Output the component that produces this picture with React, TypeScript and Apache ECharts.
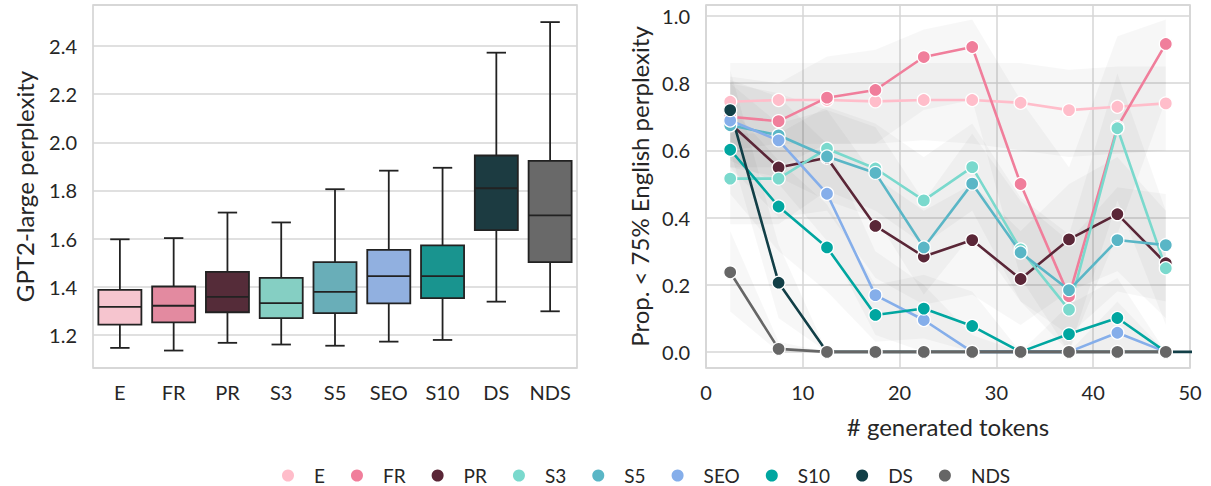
import React, { useEffect, useRef } from "react";
import * as echarts from "echarts";

const categories = ["E", "FR", "PR", "S3", "S5", "SEO", "S10", "DS", "NDS"];
const boxFill = ["#f6c5cf", "#e38aa0", "#552c39", "#85cfc3", "#69aeb8", "#91b0e0", "#19948f", "#1c3b41", "#696969"];
const lineColors = ["#ffbdca", "#f07e9b", "#5a2637", "#7ad9cd", "#5ab6c6", "#85aeea", "#00a6a0", "#123f47", "#666666"];

const boxMin = [1.146, 1.135, 1.167, 1.16, 1.155, 1.172, 1.179, 1.338, 1.298];
const boxQ1 = [1.243, 1.252, 1.294, 1.27, 1.29, 1.331, 1.353, 1.635, 1.502];
const boxMed = [1.316, 1.321, 1.358, 1.332, 1.379, 1.444, 1.444, 1.809, 1.696];
const boxQ3 = [1.387, 1.401, 1.462, 1.437, 1.502, 1.553, 1.572, 1.945, 1.923];
const boxMax = [1.597, 1.602, 1.708, 1.667, 1.805, 1.882, 1.894, 2.372, 2.499];

const tokens = [2.5, 7.5, 12.5, 17.5, 22.5, 27.5, 32.5, 37.5, 42.5, 47.5];
const tokensDS = [2.5, 7.5, 12.5, 17.5, 22.5, 27.5, 32.5, 37.5, 42.5, 47.5, 52.5];

const propE = [0.745, 0.75, 0.75, 0.746, 0.75, 0.75, 0.742, 0.72, 0.73, 0.74];
const propFR = [0.7, 0.687, 0.757, 0.78, 0.878, 0.908, 0.5, 0.166, 0.67, 0.917];
const propPR = [0.68, 0.549, 0.578, 0.375, 0.284, 0.333, 0.217, 0.335, 0.41, 0.264];
const propS3 = [0.516, 0.516, 0.605, 0.546, 0.451, 0.55, 0.305, 0.126, 0.666, 0.249];
const propS5 = [0.675, 0.645, 0.582, 0.533, 0.311, 0.501, 0.296, 0.184, 0.333, 0.318];
const propSEO = [0.689, 0.63, 0.471, 0.169, 0.095, 0, 0, 0, 0.057, 0];
const propS10 = [0.602, 0.433, 0.311, 0.11, 0.129, 0.077, 0, 0.053, 0.101, 0];
const propDS = [0.72, 0.206, 0, 0, 0, 0, 0, 0, 0, 0, 0];
const propNDS = [0.237, 0.009, 0, 0, 0, 0, 0, 0, 0, 0];

const bandLowE = [0.6, 0.62, 0.62, 0.62, 0.63, 0.62, 0.6, 0.58, 0.59, 0.6];
const bandHighE = [0.86, 0.86, 0.86, 0.86, 0.86, 0.86, 0.86, 0.84, 0.85, 0.85];
const bandLowFR = [0.55, 0.55, 0.62, 0.62, 0.72, 0.75, 0.22, 0.0, 0.35, 0.75];
const bandHighFR = [0.82, 0.8, 0.88, 0.9, 0.96, 0.99, 0.75, 0.55, 0.94, 0.99];
const bandLowPR = [0.55, 0.4, 0.42, 0.22, 0.14, 0.17, 0.08, 0.18, 0.24, 0.1];
const bandHighPR = [0.8, 0.68, 0.72, 0.52, 0.42, 0.5, 0.36, 0.5, 0.58, 0.42];
const bandLowS3 = [0.38, 0.38, 0.48, 0.42, 0.32, 0.42, 0.15, 0.0, 0.45, 0.08];
const bandHighS3 = [0.65, 0.65, 0.73, 0.68, 0.58, 0.68, 0.46, 0.35, 0.83, 0.42];
const bandLowS5 = [0.55, 0.52, 0.45, 0.4, 0.17, 0.35, 0.15, 0.05, 0.18, 0.15];
const bandHighS5 = [0.8, 0.77, 0.72, 0.67, 0.45, 0.65, 0.45, 0.33, 0.49, 0.47];
const bandLowSEO = [0.57, 0.5, 0.33, 0.05, 0.0, 0, 0, 0, 0, 0];
const bandHighSEO = [0.81, 0.76, 0.62, 0.3, 0.2, 0.05, 0.0, 0.0, 0.15, 0.0];
const bandLowS10 = [0.47, 0.3, 0.18, 0.03, 0.04, 0.0, 0.0, 0.0, 0.0, 0.0];
const bandHighS10 = [0.73, 0.57, 0.44, 0.2, 0.23, 0.18, 0.0, 0.14, 0.22, 0.0];
const bandLowDS = [0.6, 0.1, 0, 0, 0, 0, 0, 0, 0, 0];
const bandHighDS = [0.84, 0.32, 0, 0, 0, 0, 0, 0, 0, 0];
const bandLowNDS = [0.12, 0, 0, 0, 0, 0, 0, 0, 0, 0];
const bandHighNDS = [0.36, 0.03, 0, 0, 0, 0, 0, 0, 0, 0];

const FONT = "Lato";
const TEXT = "#262626";

export default function App() {
  const ref = useRef<HTMLDivElement>(null);
  useEffect(() => {
    document.body.style.margin = "0";
    if (!ref.current) return;
    const chart = echarts.init(ref.current, null, { renderer: "svg" });

    const props = [propE, propFR, propPR, propS3, propS5, propSEO, propS10, propDS, propNDS];
    const lows = [bandLowE, bandLowFR, bandLowPR, bandLowS3, bandLowS5, bandLowSEO, bandLowS10, bandLowDS, bandLowNDS];
    const highs = [bandHighE, bandHighFR, bandHighPR, bandHighS3, bandHighS5, bandHighSEO, bandHighS10, bandHighDS, bandHighNDS];

    const boxData = categories.map((_, i) => [i, boxMin[i], boxQ1[i], boxMed[i], boxQ3[i], boxMax[i]]);
    const edge = "#222222";
    const lw = 1.8;

    const lineSeries = categories.map((name, i) => ({
      name,
      type: "line",
      xAxisIndex: 1,
      yAxisIndex: 1,
      data: (name === "DS" ? tokensDS : tokens).map((t, j) => [t, props[i][j]]),
      symbol: "circle",
      symbolSize: 13,
      clip: true,
      z: 3,
      lineStyle: { width: 2.6, color: lineColors[i] },
      itemStyle: { color: lineColors[i], borderColor: "#ffffff", borderWidth: 1.3 },
      emphasis: { disabled: true },
    }));

    const tickLabel = { fontSize: 20, color: TEXT, fontFamily: FONT };
    const nameStyle = { fontSize: 24, color: TEXT, fontFamily: FONT };
    const gridLine = { show: true, lineStyle: { color: "#d6d6d6", width: 1.5 } };

    const option: any = {
      animation: false,
      textStyle: { fontFamily: FONT, color: TEXT },
      grid: [
        { left: 93, top: 5, width: 484, height: 363, show: true, borderColor: "#cfcfcf", borderWidth: 1.5, backgroundColor: "transparent" },
        { left: 706, top: 5, width: 484, height: 363, show: true, borderColor: "#cfcfcf", borderWidth: 1.5, backgroundColor: "transparent" },
      ],
      xAxis: [
        {
          gridIndex: 0,
          type: "category",
          data: categories,
          axisLine: { show: false },
          axisTick: { show: false },
          axisLabel: { ...tickLabel, margin: 14 },
          splitLine: { show: false },
        },
        {
          gridIndex: 1,
          type: "value",
          min: 0,
          max: 50,
          interval: 10,
          axisLine: { show: false },
          axisTick: { show: false },
          axisLabel: { ...tickLabel, margin: 14 },
          splitLine: gridLine,
          name: "# generated tokens",
          nameLocation: "middle",
          nameGap: 46,
          nameTextStyle: nameStyle,
        },
      ],
      yAxis: [
        {
          gridIndex: 0,
          type: "value",
          min: 1.0625,
          max: 2.57,
          splitNumber: 7,
          axisLine: { show: false },
          axisTick: { show: false },
          axisLabel: {
            ...tickLabel, margin: 16,
            showMinLabel: false, showMaxLabel: false,
            formatter: (v: number) => v.toFixed(1),
          },
          splitLine: gridLine,
          name: "GPT2-large perplexity",
          nameLocation: "middle",
          nameGap: 57,
          nameTextStyle: nameStyle,
        },
        {
          gridIndex: 1,
          type: "value",
          min: -0.048,
          max: 1.033,
          splitNumber: 5,
          axisLine: { show: false },
          axisTick: { show: false },
          axisLabel: {
            ...tickLabel, margin: 16,
            showMinLabel: false, showMaxLabel: false,
            formatter: (v: number) => v.toFixed(1),
          },
          splitLine: gridLine,
          name: "Prop. < 75% English perplexity",
          nameLocation: "middle",
          nameGap: 55,
          nameTextStyle: nameStyle,
        },
      ],
      legend: {
        data: categories,
        top: 466,
        left: 280,
        padding: 0,
        icon: "circle",
        itemWidth: 14,
        itemHeight: 14,
        itemGap: 24,
        formatter: (name: string) => `{g| }{t|${name}}`,
        textStyle: {
          fontSize: 19, color: TEXT, fontFamily: FONT,
          rich: {
            g: { width: 14, fontSize: 19, fontFamily: FONT },
            t: { fontSize: 19, color: TEXT, fontFamily: FONT },
          },
        },
      },
      series: [
        {
          type: "custom",
          name: "boxes",
          xAxisIndex: 0,
          yAxisIndex: 0,
          data: boxData,
          encode: { x: 0, y: [1, 2, 3, 4, 5] },
          renderItem: (params: any, api: any) => {
            const c = api.value(0);
            const pMin = api.coord([c, api.value(1)]);
            const pQ1 = api.coord([c, api.value(2)]);
            const pMed = api.coord([c, api.value(3)]);
            const pQ3 = api.coord([c, api.value(4)]);
            const pMax = api.coord([c, api.value(5)]);
            const band = api.size([1, 0])[0];
            const hw = band * 0.4;
            const cw = band * 0.18;
            const x = pMed[0];
            const st = { stroke: edge, lineWidth: lw, fill: null };
            return {
              type: "group",
              children: [
                { type: "line", shape: { x1: x, y1: pQ3[1], x2: x, y2: pMax[1] }, style: st },
                { type: "line", shape: { x1: x, y1: pQ1[1], x2: x, y2: pMin[1] }, style: st },
                { type: "line", shape: { x1: x - cw, y1: pMax[1], x2: x + cw, y2: pMax[1] }, style: st },
                { type: "line", shape: { x1: x - cw, y1: pMin[1], x2: x + cw, y2: pMin[1] }, style: st },
                {
                  type: "rect",
                  shape: { x: x - hw, y: pQ3[1], width: hw * 2, height: pQ1[1] - pQ3[1] },
                  style: { fill: boxFill[params.dataIndex], stroke: edge, lineWidth: lw },
                },
                { type: "line", shape: { x1: x - hw, y1: pMed[1], x2: x + hw, y2: pMed[1] }, style: st },
              ],
            };
          },
          z: 2,
        },
        {
          type: "custom",
          name: "bands",
          xAxisIndex: 1,
          yAxisIndex: 1,
          clip: true,
          data: categories.map((_, i) => [i]),
          encode: { itemName: 0 },
          renderItem: (params: any, api: any) => {
            const i = params.dataIndex;
            const pts: number[][] = [];
            tokens.forEach((t, j) => pts.push(api.coord([t, highs[i][j]])));
            for (let j = tokens.length - 1; j >= 0; j--) pts.push(api.coord([tokens[j], lows[i][j]]));
            return {
              type: "polygon",
              shape: { points: pts },
              style: { fill: "rgba(0,0,0,0.03)" },
            };
          },
          z: 1,
        },
        ...lineSeries,
      ],
    };
    chart.setOption(option);
    return () => chart.dispose();
  }, []);
  return <div ref={ref} style={{ width: 1211, height: 486 }} />;
}
